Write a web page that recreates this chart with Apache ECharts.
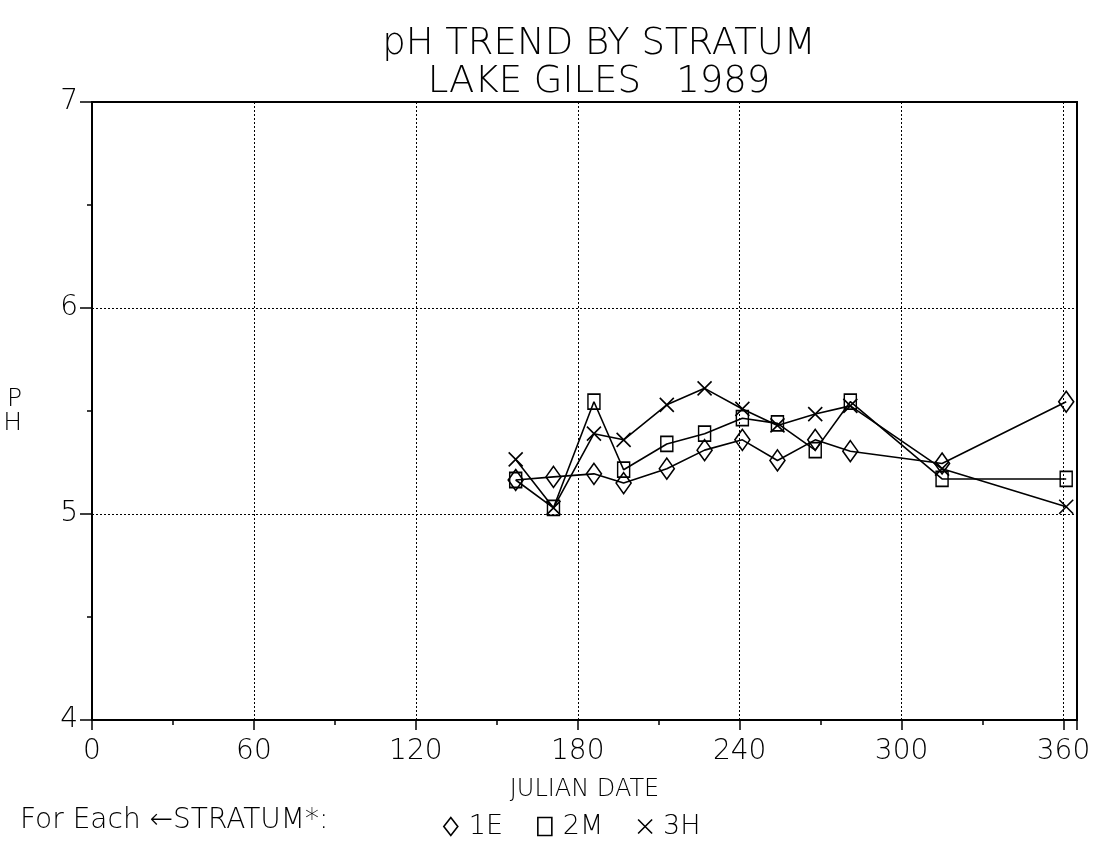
<!DOCTYPE html>
<html>
<head>
<meta charset="utf-8">
<script src="https://cdn.jsdelivr.net/npm/echarts@6/dist/echarts.min.js"></script>
<style>
html,body{margin:0;padding:0;background:#fff;}
#chart{width:1094px;height:843px;}
</style>
</head>
<body>
<div id="chart"></div>
<script>
// ---- data ----
const days = [157, 171, 186, 197, 213, 227, 241, 254, 268, 281, 315, 361];
const ph1E = [5.165, 5.18, 5.195, 5.15, 5.22, 5.31, 5.36, 5.26, 5.36, 5.305, 5.245, 5.545];
const ph2M = [5.165, 5.03, 5.545, 5.215, 5.34, 5.39, 5.465, 5.44, 5.31, 5.545, 5.17, 5.17];
const ph3H = [5.265, 5.03, 5.39, 5.36, 5.53, 5.61, 5.51, 5.43, 5.485, 5.525, 5.22, 5.035];
const seriesNames = ['1E', '2M', '3H'];
const titleLines = ['pH TREND BY STRATUM', 'LAKE GILES   1989'];
const xTickLabels = [0, 60, 120, 180, 240, 300, 360];
const yTickLabels = [4, 5, 6, 7];

const FONT = 'DejaVu Sans';
const pair = (arr) => days.map((d, i) => [d, arr[i]]);
const xPath = 'path://M0 0L10 10M10 0L0 10';

const chart = echarts.init(document.getElementById('chart'), null, {renderer: 'canvas'});
const lineStyle = {color: '#000', width: 1.6};
const markStyle = {color: 'rgba(0,0,0,0)', borderColor: '#000', borderWidth: 1.6};

chart.setOption({
  animation: false,
  backgroundColor: '#fff',
  title: {
    text: titleLines.join('\n'),
    left: 594,
    textAlign: 'center',
    top: 20,
    textStyle: {fontFamily: FONT, fontWeight: 200, fontSize: 37, lineHeight: 38, color: '#000'}
  },
  legend: {
    left: 438,
    top: 808,
    itemGap: 34,
    itemWidth: 14,
    itemHeight: 18,
    textStyle: {fontFamily: FONT, fontWeight: 200, fontSize: 27, color: '#000', padding: [0, 0, 0, 6]},
    data: [
      {name: seriesNames[0], icon: 'diamond', itemStyle: markStyle},
      {name: seriesNames[1], icon: 'rect', itemStyle: markStyle},
      {name: seriesNames[2], icon: xPath, itemStyle: markStyle}
    ]
  },
  graphic: [{
    type: 'text',
    left: 20,
    top: 807,
    style: {text: 'For Each \u2190STRATUM*:', fontFamily: FONT, fontWeight: 200, fontSize: 28, fill: '#000'}
  }],
  grid: {left: 92, right: 17, top: 102, bottom: 123, show: true, borderColor: '#000', borderWidth: 2, backgroundColor: 'transparent'},
  xAxis: {
    type: 'value',
    min: 0, max: 365, interval: 60,
    name: 'JULIAN DATE',
    nameLocation: 'middle',
    nameGap: 58,
    nameTextStyle: {fontFamily: FONT, fontWeight: 200, fontSize: 24, color: '#000'},
    axisLine: {show: true, lineStyle: {color: '#000', width: 2}},
    axisTick: {show: true, length: 10, lineStyle: {color: '#000', width: 1.5}},
    minorTick: {show: true, splitNumber: 2, length: 5, lineStyle: {color: '#000', width: 1.5}},
    splitLine: {show: true, lineStyle: {color: '#000', width: 1, type: [2, 2]}},
    axisLabel: {
      margin: 18,
      fontFamily: FONT, fontWeight: 200, fontSize: 28, color: '#000',
      formatter: (v) => xTickLabels.includes(v) ? String(v) : ''
    }
  },
  yAxis: {
    type: 'value',
    min: 4, max: 7, interval: 1,
    name: 'P\nH',
    nameLocation: 'middle',
    nameRotate: 0,
    nameGap: 70,
    nameTextStyle: {fontFamily: FONT, fontWeight: 200, fontSize: 25, lineHeight: 24, color: '#000'},
    axisLine: {show: true, lineStyle: {color: '#000', width: 2}},
    axisTick: {show: true, length: 12, lineStyle: {color: '#000', width: 1.5}},
    minorTick: {show: true, splitNumber: 2, length: 5, lineStyle: {color: '#000', width: 1.5}},
    splitLine: {show: true, lineStyle: {color: '#000', width: 1, type: [2, 2]}},
    axisLabel: {
      margin: 14,
      fontFamily: FONT, fontWeight: 200, fontSize: 28, color: '#000',
      formatter: (v) => yTickLabels.includes(v) ? String(v) : ''
    }
  },
  series: [
    {name: seriesNames[0], type: 'line', data: pair(ph1E), symbol: 'diamond', symbolSize: [15, 21],
      lineStyle: lineStyle, itemStyle: markStyle, z: 3},
    {name: seriesNames[1], type: 'line', data: pair(ph2M), symbol: 'rect', symbolSize: [12, 15],
      lineStyle: lineStyle, itemStyle: markStyle, z: 3},
    {name: seriesNames[2], type: 'line', data: pair(ph3H), symbol: xPath, symbolSize: [14, 14],
      lineStyle: lineStyle, itemStyle: markStyle, z: 3}
  ]
});
</script>
</body>
</html>
